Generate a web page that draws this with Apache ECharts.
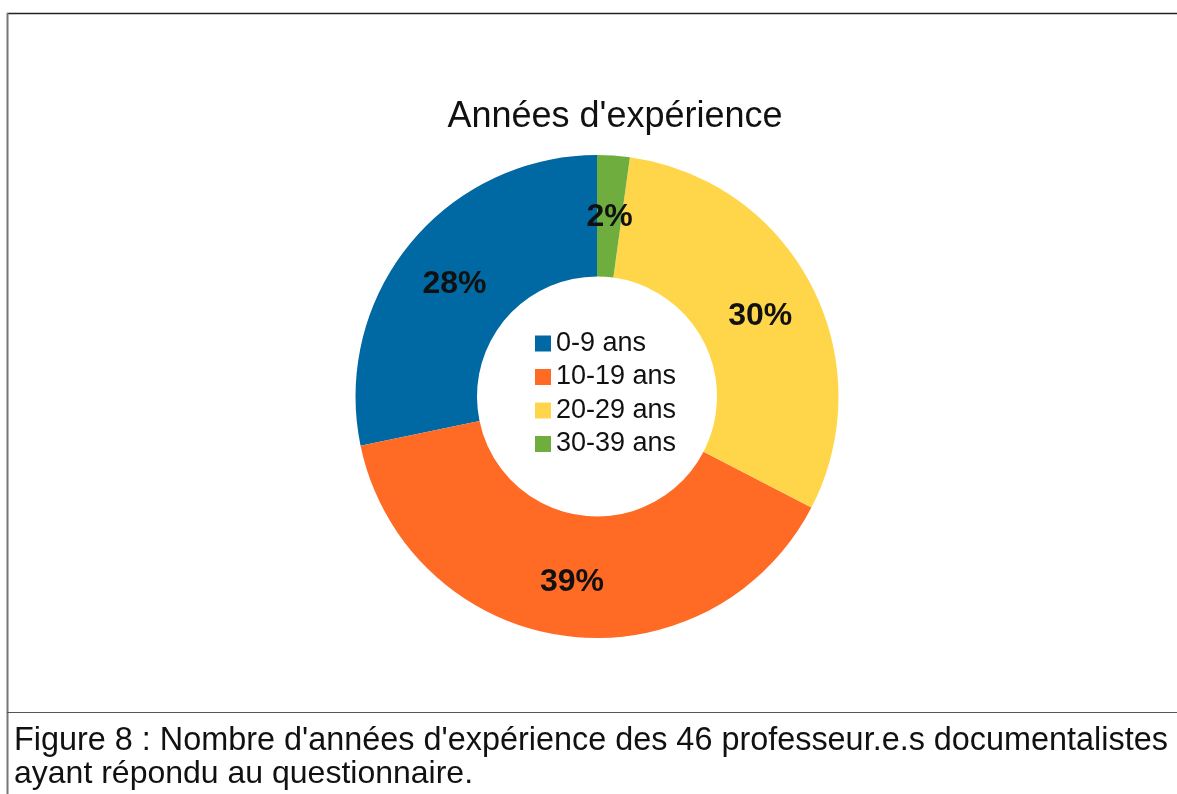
<!DOCTYPE html>
<html>
<head>
<meta charset="utf-8">
<script src="https://cdn.jsdelivr.net/npm/echarts@6/dist/echarts.min.js"></script>
<style>
html,body{margin:0;padding:0;background:#fff;}
#chart{width:1177px;height:794px;}
</style>
</head>
<body>
<div id="chart"></div>
<script>
const titleText = "Années d'expérience";
const categories = ["0-9 ans", "10-19 ans", "20-29 ans", "30-39 ans"];
const counts = [13, 18, 14, 1];
const colors = ["#0068a2", "#ff6a24", "#ffd64a", "#6fae3e"];
const captionLines = [
  "Figure 8 : Nombre d'années d'expérience des 46 professeur.e.s documentalistes",
  "ayant répondu au questionnaire."
];

const chart = echarts.init(document.getElementById('chart'), null, {renderer: 'canvas'});
const total = counts.reduce((a, b) => a + b, 0);
chart.setOption({
  animation: false,
  color: colors,
  title: {
    text: titleText,
    left: 610, top: 94, textAlign: 'center',
    textStyle: {fontFamily: 'Liberation Sans', fontSize: 36, fontWeight: 'normal', color: '#111'}
  },
  legend: {
    orient: 'vertical',
    left: 530, top: 325,
    itemWidth: 16, itemHeight: 16, itemGap: 6.5,
    icon: 'rect',
    textStyle: {fontFamily: 'Liberation Sans', fontSize: 27, color: '#111', padding: [0, 0, 0, 0]},
    data: categories
  },
  series: [{
    type: 'pie',
    center: [597, 396.5],
    radius: [120, 241.5],
    startAngle: 90,
    clockwise: false,
    avoidLabelOverlap: false,
    label: {
      show: true,
      position: 'inside',
      offset: [0, 4],
      formatter: p => Math.round(p.value / total * 100) + '%',
      fontFamily: 'Liberation Sans', fontSize: 32, fontWeight: 'bold', color: '#111'
    },
    labelLine: {show: false},
    itemStyle: {borderWidth: 0},
    emphasis: {disabled: true},
    data: categories.map((c, i) => ({name: c, value: counts[i]}))
  }],
  graphic: [
    {type: 'line', shape: {x1: 7, y1: 13.5, x2: 1177, y2: 13.5}, style: {stroke: '#222', lineWidth: 1.5}},
    {type: 'line', shape: {x1: 7.5, y1: 13, x2: 7.5, y2: 794}, style: {stroke: '#777', lineWidth: 2}},
    {type: 'line', shape: {x1: 7, y1: 712.5, x2: 1177, y2: 712.5}, style: {stroke: '#555', lineWidth: 1.2}},
    {type: 'text', left: 14, top: 725, style: {text: captionLines[0], font: '32.4px "Liberation Sans"', fill: '#111'}},
    {type: 'text', left: 14, top: 758, style: {text: captionLines[1], font: '32px "Liberation Sans"', fill: '#111'}}
  ]
});
</script>
</body>
</html>
